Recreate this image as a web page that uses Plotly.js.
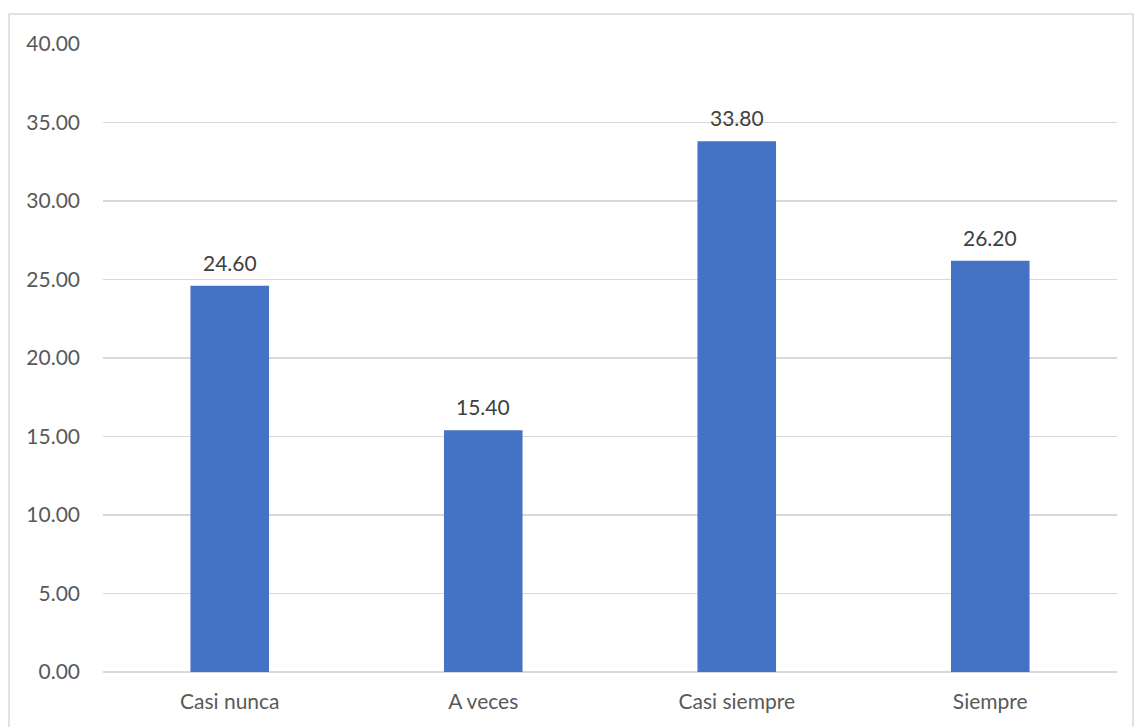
<!DOCTYPE html>
<html>
<head>
<meta charset="utf-8">
<script src="https://cdn.plot.ly/plotly-3.0.1.min.js"></script>
<style>html,body{margin:0;padding:0;background:#fff}#chart{width:1134px;height:727px}</style>
</head>
<body>
<div id="chart"></div>
<script>
const categories = ["Casi nunca", "A veces", "Casi siempre", "Siempre"];
const values = [24.60, 15.40, 33.80, 26.20];
const tickVals = [0, 5, 10, 15, 20, 25, 30, 35, 40];

const fontFam = "Lato, 'Open Sans', sans-serif";
const trace = {
  type: "bar",
  x: categories,
  y: values,
  width: 0.31,
  marker: {color: "#4472c4"},
  hoverinfo: "none"
};
const annotations = categories.map((c, i) => ({
  x: c, y: values[i], xref: "x", yref: "y",
  text: values[i].toFixed(2), showarrow: false,
  yanchor: "bottom", yshift: 9,
  font: {family: fontFam, size: 21, color: "#404040"}
}));
const layout = {
  width: 1134, height: 727,
  margin: {l: 103, r: 17, t: 44, b: 55},
  paper_bgcolor: "#fff", plot_bgcolor: "#fff",
  showlegend: false,
  bargap: 0.69,
  font: {family: fontFam, size: 21, color: "#595959"},
  xaxis: {showgrid: false, showline: false, zeroline: false, ticks: "", ticklabelstandoff: 15,
          tickfont: {family: fontFam, size: 21, color: "#595959"}},
  yaxis: {range: [0, 40], tickvals: tickVals, ticktext: tickVals.map(v => v.toFixed(2)),
          showgrid: true, gridcolor: "#d9d9d9", gridwidth: 1.5, zeroline: true, zerolinecolor: "#d9d9d9", zerolinewidth: 1.5,
          showline: false, ticks: "", ticklabelstandoff: 22,
          tickfont: {family: fontFam, size: 21, color: "#595959"}},
  annotations: annotations,
  shapes: [{type: "rect", xref: "paper", yref: "paper",
            x0: (9 - 103) / 1014, x1: (1133 - 103) / 1014,
            y0: -0.2, y1: (672 - 14) / 628,
            line: {color: "#d9d9d9", width: 1.5}, fillcolor: "rgba(0,0,0,0)", layer: "below"}]
};
Plotly.newPlot("chart", [trace], layout, {displayModeBar: false, staticPlot: true});
</script>
</body>
</html>
